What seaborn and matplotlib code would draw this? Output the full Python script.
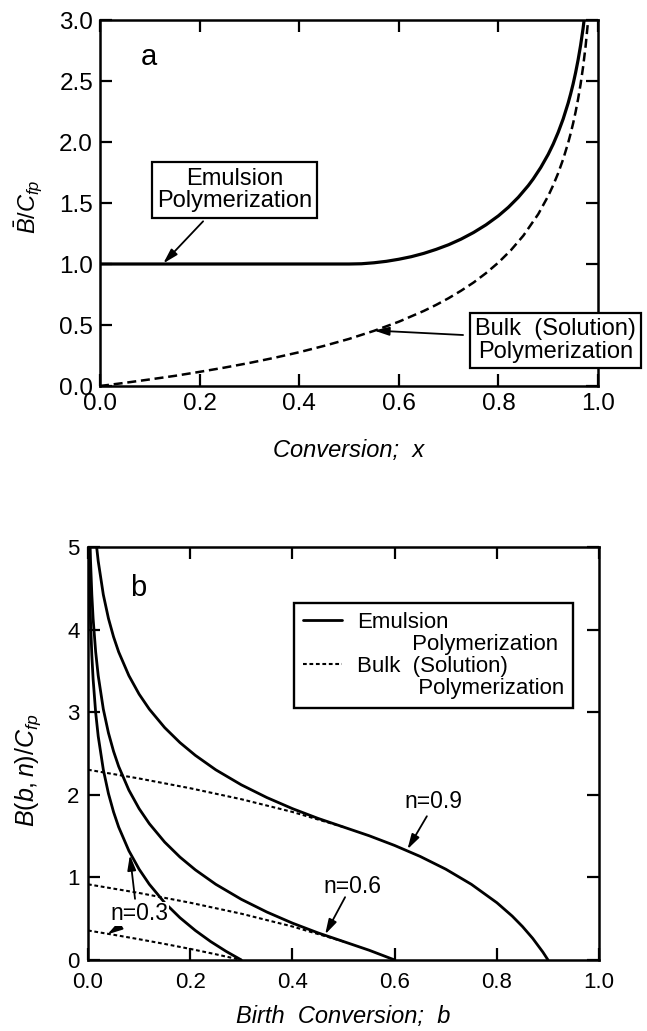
import matplotlib
matplotlib.use("Agg")
import matplotlib.pyplot as plt
import seaborn as sns
from matplotlib.lines import Line2D

# ---------------- data: panel a ----------------
a_x_emul = [0.0, 0.1, 0.2, 0.3, 0.4, 0.5, 0.525, 0.55, 0.575, 0.6, 0.625, 0.65, 0.675,
            0.7, 0.725, 0.75, 0.775, 0.8, 0.82, 0.84, 0.86, 0.87, 0.885, 0.9, 0.91,
            0.92, 0.93, 0.94, 0.945, 0.95, 0.955, 0.96, 0.965, 0.97, 0.975]
a_y_emul = [1.0, 1.0, 1.0, 1.0, 1.0, 1.0, 1.002, 1.010, 1.022, 1.039, 1.060, 1.087, 1.120,
            1.158, 1.204, 1.258, 1.321, 1.395, 1.465, 1.547, 1.643, 1.698, 1.791, 1.899, 1.983,
            2.079, 2.189, 2.319, 2.394, 2.476, 2.569, 2.673, 2.792, 2.931, 3.098]

a_x_bulk = [0.0, 0.05, 0.1, 0.15, 0.2, 0.25, 0.3, 0.35, 0.4, 0.45, 0.5, 0.55, 0.6, 0.65,
            0.675, 0.7, 0.725, 0.75, 0.775, 0.8, 0.825, 0.85, 0.88, 0.9, 0.91, 0.92, 0.93,
            0.94, 0.945, 0.95, 0.955, 0.96, 0.965, 0.97, 0.975, 0.98]
a_y_bulk = [0.0, 0.026, 0.054, 0.083, 0.116, 0.151, 0.189, 0.231, 0.277, 0.329, 0.386, 0.452,
            0.527, 0.615, 0.665, 0.720, 0.781, 0.848, 0.925, 1.012, 1.113, 1.232, 1.409, 1.558,
            1.646, 1.745, 1.859, 1.993, 2.069, 2.153, 2.247, 2.353, 2.474, 2.615, 2.783, 2.992]

a_xticks = [0.0, 0.2, 0.4, 0.6, 0.8, 1.0]
a_xticklabels = ["0.0", "0.2", "0.4", "0.6", "0.8", "1.0"]
a_yticks = [0.0, 0.5, 1.0, 1.5, 2.0, 2.5, 3.0]
a_yticklabels = ["0.0", "0.5", "1.0", "1.5", "2.0", "2.5", "3.0"]

# ---------------- data: panel b ----------------
b_x_emul_03 = [0.002, 0.003, 0.005, 0.0075, 0.01, 0.015, 0.02, 0.03, 0.04, 0.05, 0.06, 0.08,
               0.1, 0.12, 0.15, 0.18, 0.21, 0.24, 0.27, 0.3]
b_y_emul_03 = [5.011, 4.605, 4.094, 3.689, 3.401, 2.996, 2.708, 2.303, 2.015, 1.792, 1.609, 1.322,
               1.099, 0.916, 0.693, 0.511, 0.357, 0.223, 0.105, 0.0]

b_x_emul_06 = [0.004, 0.005, 0.0075, 0.01, 0.015, 0.02, 0.03, 0.04, 0.05, 0.06, 0.08, 0.1,
               0.12, 0.15, 0.18, 0.21, 0.25, 0.3, 0.35, 0.4, 0.45, 0.5, 0.55, 0.6]
b_y_emul_06 = [5.052, 4.828, 4.423, 4.135, 3.730, 3.442, 3.036, 2.749, 2.526, 2.343, 2.056, 1.832,
               1.650, 1.427, 1.245, 1.091, 0.916, 0.734, 0.580, 0.446, 0.328, 0.223, 0.118, 0.0]

b_x_emul_09 = [0.016, 0.02, 0.03, 0.04, 0.05, 0.06, 0.08, 0.1, 0.12, 0.15, 0.18, 0.21, 0.25,
               0.3, 0.35, 0.4, 0.45, 0.5, 0.55, 0.6, 0.65, 0.7, 0.75, 0.8, 0.83, 0.85, 0.87,
               0.89, 0.9]
b_y_emul_09 = [5.051, 4.828, 4.422, 4.135, 3.912, 3.729, 3.442, 3.218, 3.036, 2.813, 2.631, 2.477,
               2.302, 2.120, 1.966, 1.832, 1.714, 1.609, 1.504, 1.386, 1.253, 1.099, 0.916, 0.693,
               0.531, 0.405, 0.262, 0.095, 0.0]

b_x_bulk_03 = [0.0, 0.05, 0.1, 0.15, 0.2, 0.25, 0.3]
b_y_bulk_03 = [0.357, 0.305, 0.251, 0.194, 0.134, 0.069, 0.0]
b_x_bulk_06 = [0.0, 0.1, 0.2, 0.3, 0.4, 0.5]
b_y_bulk_06 = [0.916, 0.811, 0.693, 0.560, 0.405, 0.223]
b_x_bulk_09 = [0.0, 0.1, 0.2, 0.3, 0.4, 0.5]
b_y_bulk_09 = [2.303, 2.197, 2.079, 1.946, 1.792, 1.609]

b_xticks = [0.0, 0.2, 0.4, 0.6, 0.8, 1.0]
b_xticklabels = ["0.0", "0.2", "0.4", "0.6", "0.8", "1.0"]
b_yticks = [0, 1, 2, 3, 4, 5]
b_yticklabels = ["0", "1", "2", "3", "4", "5"]

legend_labels = ["Emulsion", "         Polymerization", "Bulk  (Solution)", "          Polymerization"]

# ---------------- style ----------------
sns.set_style("ticks")
plt.rcParams.update({
    "font.family": ["Liberation Sans", "DejaVu Sans"],
    "mathtext.fontset": "custom",
    "mathtext.it": "Liberation Sans:italic",
    "mathtext.rm": "Liberation Sans",
    "mathtext.sf": "Liberation Sans",
    "mathtext.bf": "Liberation Sans:bold",
    "axes.linewidth": 1.8,
    "axes.edgecolor": "black",
    "axes.labelcolor": "black",
    "xtick.color": "black",
    "ytick.color": "black",
    "xtick.labelcolor": "black",
    "ytick.labelcolor": "black",
    "text.color": "black",
})

fig = plt.figure(figsize=(6.47, 10.31), dpi=100)
ax1 = fig.add_axes([0.1546, 0.6256, 0.7697, 0.355])
ax2 = fig.add_axes([0.136, 0.0689, 0.790, 0.4006])

arrow_kw = dict(arrowstyle="-|>,head_length=0.6,head_width=0.17", color="black",
                lw=1.3, shrinkA=0, shrinkB=0, mutation_scale=15)

# ---------------- panel a ----------------
sns.lineplot(x=a_x_bulk, y=a_y_bulk, ax=ax1, color="black", lw=1.8,
             linestyle=(0, (3.6, 1.9)), estimator=None, sort=False)
sns.lineplot(x=a_x_emul, y=a_y_emul, ax=ax1, color="black", lw=2.3,
             estimator=None, sort=False)
ax1.set_xlim(0, 1)
ax1.set_ylim(0, 3)
ax1.set_xticks(a_xticks)
ax1.set_xticklabels(a_xticklabels)
ax1.set_yticks(a_yticks)
ax1.set_yticklabels(a_yticklabels)
ax1.tick_params(direction="in", top=True, right=True, length=8.5, width=1.6,
                labelsize=17.5, pad=5)
ax1.set_xlabel("Conversion;  x", fontsize=17, style="italic", va="center")
ax1.xaxis.set_label_coords(0.5, -0.175)
ax1.set_ylabel(r"$\bar{B}/C_{fp}$", fontsize=17, va="center")
ax1.yaxis.set_label_coords(-0.145, 0.49)

ax1.text(0.098, 2.70, "a", fontsize=21, ha="center", va="center")
ax1.annotate("", xy=(0.127, 1.005), xytext=(0.207, 1.35), arrowprops=arrow_kw, zorder=4)
ax1.text(0.27, 1.607, "Emulsion\nPolymerization", fontsize=17, ha="center", va="center",
         multialignment="center", linespacing=1.05, zorder=6,
         bbox=dict(boxstyle="square,pad=0.22", fc="white", ec="black", lw=1.6))
ax1.annotate("", xy=(0.55, 0.455), xytext=(0.729, 0.418), arrowprops=arrow_kw, zorder=4,
             annotation_clip=False)
ax1.text(0.914, 0.373, "Bulk  (Solution)\nPolymerization", fontsize=17, ha="center",
         va="center", multialignment="center", linespacing=1.05, zorder=10, clip_on=False,
         bbox=dict(boxstyle="square,pad=0.22", fc="white", ec="black", lw=1.6))

# ---------------- panel b ----------------
dot_ls = (0, (1.8, 1.3))
for bx, by in [(b_x_bulk_09, b_y_bulk_09), (b_x_bulk_06, b_y_bulk_06), (b_x_bulk_03, b_y_bulk_03)]:
    sns.lineplot(x=bx, y=by, ax=ax2, color="black", lw=1.5, linestyle=dot_ls,
                 estimator=None, sort=False)
for bx, by in [(b_x_emul_09, b_y_emul_09), (b_x_emul_06, b_y_emul_06), (b_x_emul_03, b_y_emul_03)]:
    sns.lineplot(x=bx, y=by, ax=ax2, color="black", lw=2.0, estimator=None, sort=False)

ax2.set_xlim(0, 1)
ax2.set_ylim(0, 5)
ax2.set_xticks(b_xticks)
ax2.set_xticklabels(b_xticklabels)
ax2.set_yticks(b_yticks)
ax2.set_yticklabels(b_yticklabels)
ax2.tick_params(direction="in", top=True, right=True, length=8.5, width=1.6,
                labelsize=16)
ax2.tick_params(axis="x", pad=8.5)
ax2.tick_params(axis="y", pad=6)
ax2.set_xlabel("Birth  Conversion;  b", fontsize=17, style="italic", va="center")
ax2.xaxis.set_label_coords(0.5, -0.138)
ax2.set_ylabel(r"$B(b,n)/C_{fp}$", fontsize=18, va="center")
ax2.yaxis.set_label_coords(-0.117, 0.46)

ax2.text(0.098, 4.5, "b", fontsize=21, ha="center", va="center")

ax2.text(0.675, 1.92, "n=0.9", fontsize=16.5, ha="center", va="center")
ax2.annotate("", xy=(0.625, 1.34), xytext=(0.663, 1.74), arrowprops=arrow_kw)
ax2.text(0.518, 0.89, "n=0.6", fontsize=16.5, ha="center", va="center")
ax2.annotate("", xy=(0.464, 0.31), xytext=(0.503, 0.76), arrowprops=arrow_kw)
ax2.text(0.10, 0.56, "n=0.3", fontsize=16.5, ha="center", va="center", zorder=6,
         bbox=dict(boxstyle="square,pad=0.03", fc="white", ec="none"))
ax2.annotate("", xy=(0.082, 1.27), xytext=(0.092, 0.74), arrowprops=arrow_kw)
ax2.annotate("", xy=(0.038, 0.31), xytext=(0.068, 0.43), arrowprops=arrow_kw)

handles = [Line2D([], [], color="black", lw=2.0),
           Line2D([], [], color="none"),
           Line2D([], [], color="black", lw=1.5, linestyle=dot_ls),
           Line2D([], [], color="none")]
leg = ax2.legend(handles, legend_labels, loc="upper left", bbox_to_anchor=(0.403, 0.864),
                 borderaxespad=0, frameon=True, fancybox=False, edgecolor="black",
                 framealpha=1, fontsize=16, handlelength=1.75, handletextpad=0.7,
                 labelspacing=0.05, borderpad=0.4)
leg.get_frame().set_linewidth(1.7)

fig.savefig("out.png", dpi=100)
